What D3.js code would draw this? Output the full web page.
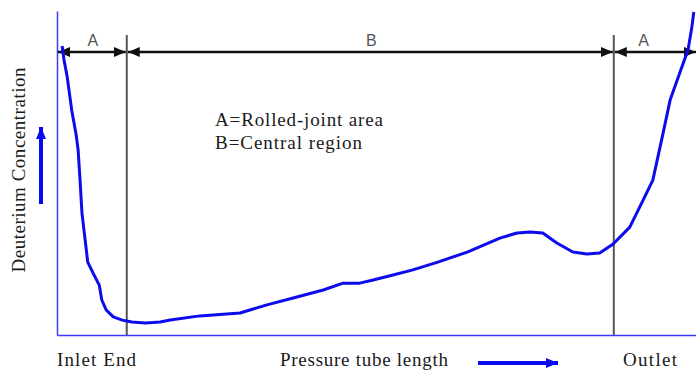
<!DOCTYPE html>
<html>
<head>
<meta charset="utf-8">
<script src="https://cdn.jsdelivr.net/npm/d3@7"></script>
<style>
	body { margin: 0; background: #fff; }
	svg { display: block; }
	.serif { font-family: 'Liberation Serif', 'Times New Roman', serif; fill: #1a1a1a; font-size: 19px; }
	.region { font-family: 'Liberation Sans', Arial, sans-serif; fill: #555; font-size: 16px; }
</style>
</head>
<body>
<div id="chart"></div>
<script>
// position along the tube (% of length) and deuterium concentration (arbitrary units)
var tubePos = [0.8, 1.1, 1.6, 2.3, 3.0, 3.3, 3.6, 3.9, 4.4, 4.8, 5.8, 6.6, 7.0, 7.7, 8.8, 10.2, 11.7, 13.8, 16.1, 17.7,
	22.3, 28.6, 32.8, 36.9, 41.6, 44.7, 47.3, 49.4, 52.5, 55.6, 59.5, 64.1, 69.2, 71.9, 73.9, 75.9, 78.1, 80.6, 82.8,
	84.8, 86.9, 89.5, 91.6, 93.1, 94.7, 95.8, 97.3, 98.6, 99.2, 99.5];
var concentration = [89.2, 84.9, 79.6, 69.4, 61.7, 57.1, 47.8, 37.7, 29.3, 22.5, 18.5, 15.4, 10.8, 7.7, 5.6, 4.6, 4.0, 3.7, 4.0, 4.6,
	5.9, 6.8, 9.3, 11.4, 13.9, 16.0, 16.0, 17.0, 18.5, 20.1, 22.5, 25.6, 29.9, 31.5, 31.8, 31.5, 28.4, 25.6, 25.0,
	25.3, 28.1, 33.3, 41.7, 47.8, 62.3, 72.5, 80.9, 88.0, 95.1, 99.7];

// region boundaries along the tube
var regionLabels = ["A", "B", "A"];
var regionStart = [0, 10.9, 87.0];
var regionEnd = [10.9, 87.0, 100];

var legendLines = ["A=Rolled-joint area", "B=Central region"];

var width = 696, height = 371,
	margin = {top: 11, right: 0, bottom: 36, left: 57};

var x = d3.scaleLinear().domain([0, 100]).range([margin.left, width + 1]),
	y = d3.scaleLinear().domain([0, 100]).range([height - margin.bottom, margin.top]);

var svg = d3.select("#chart").append("svg")
	.attr("width", width)
	.attr("height", height);

var defs = svg.append("defs");
function marker(id, color) {
	defs.append("marker")
		.attr("id", id)
		.attr("viewBox", "0 0 12 10")
		.attr("refX", 12).attr("refY", 5)
		.attr("markerWidth", 12).attr("markerHeight", 10)
		.attr("markerUnits", "userSpaceOnUse")
		.attr("orient", "auto-start-reverse")
	  .append("path")
		.attr("d", "M0,0L12,5L0,10Z")
		.attr("fill", color);
}
marker("headBlack", "#111");
marker("headBlue", "#0a0af0");

// axes, no ticks
svg.append("g")
	.attr("transform", "translate(0," + y(0) + ")")
	.call(d3.axisBottom(x).tickValues([]).tickSizeOuter(0))
	.select(".domain").attr("stroke", "#3c3cf5").attr("stroke-width", 1.5);

svg.append("g")
	.attr("transform", "translate(" + x(0) + ",0)")
	.call(d3.axisLeft(y).tickValues([]).tickSizeOuter(0))
	.select(".domain").attr("stroke", "#3c3cf5").attr("stroke-width", 1.5);

// region boundary lines
var arrowY = 52;
svg.selectAll(".boundary")
	.data([regionStart[1], regionStart[2]])
  .enter().append("line")
	.attr("class", "boundary")
	.attr("x1", function(d) { return x(d); })
	.attr("x2", function(d) { return x(d); })
	.attr("y1", 35)
	.attr("y2", y(0))
	.attr("stroke", "#555")
	.attr("stroke-width", 2);

// region arrows
svg.selectAll(".span")
	.data(regionLabels)
  .enter().append("line")
	.attr("class", "span")
	.attr("x1", function(d, i) { return x(regionStart[i]) + 1; })
	.attr("x2", function(d, i) { return x(regionEnd[i]) - 1; })
	.attr("y1", arrowY).attr("y2", arrowY)
	.attr("stroke", "#111")
	.attr("stroke-width", 2.5)
	.attr("marker-start", "url(#headBlack)")
	.attr("marker-end", "url(#headBlack)");

svg.selectAll(".region")
	.data(regionLabels)
  .enter().append("text")
	.attr("class", "region")
	.attr("x", function(d, i) { return x((regionStart[i] + Math.min(regionEnd[i], 96)) / 2) + 1; })
	.attr("y", 46)
	.attr("text-anchor", "middle")
	.text(function(d) { return d; });

// concentration profile
var line = d3.line()
	.x(function(d, i) { return x(tubePos[i]); })
	.y(function(d) { return y(d); });

svg.append("path")
	.datum(concentration)
	.attr("d", line)
	.attr("fill", "none")
	.attr("stroke", "#0b0bee")
	.attr("stroke-width", 3)
	.attr("stroke-linejoin", "round");

// legend text
var legendWidths = [168, 147];
svg.selectAll(".legend")
	.data(legendLines)
  .enter().append("text")
	.attr("class", "serif")
	.attr("x", 215)
	.attr("y", function(d, i) { return 126 + i * 23; })
	.attr("textLength", function(d, i) { return legendWidths[i]; })
	.attr("lengthAdjust", "spacing")
	.text(function(d) { return d; });

// axis titles
svg.append("text")
	.attr("class", "serif")
	.attr("transform", "translate(25,170) rotate(-90)")
	.attr("text-anchor", "middle")
	.attr("textLength", 205)
	.attr("lengthAdjust", "spacing")
	.text("Deuterium Concentration");

svg.append("line")
	.attr("x1", 41).attr("x2", 41)
	.attr("y1", 204).attr("y2", 127)
	.attr("stroke", "#0a0af0").attr("stroke-width", 4)
	.attr("marker-end", "url(#headBlue)");

svg.append("text")
	.attr("class", "serif")
	.attr("x", 57).attr("y", 366)
	.attr("textLength", 79)
	.attr("lengthAdjust", "spacing")
	.text("Inlet End");

svg.append("text")
	.attr("class", "serif")
	.attr("x", 280).attr("y", 366)
	.attr("textLength", 168)
	.attr("lengthAdjust", "spacing")
	.text("Pressure tube length");

svg.append("line")
	.attr("x1", 478).attr("x2", 558)
	.attr("y1", 363).attr("y2", 363)
	.attr("stroke", "#0a0af0").attr("stroke-width", 4)
	.attr("marker-end", "url(#headBlue)");

svg.append("text")
	.attr("class", "serif")
	.attr("x", 623).attr("y", 366)
	.attr("textLength", 54)
	.attr("lengthAdjust", "spacing")
	.text("Outlet");
</script>
</body>
</html>
